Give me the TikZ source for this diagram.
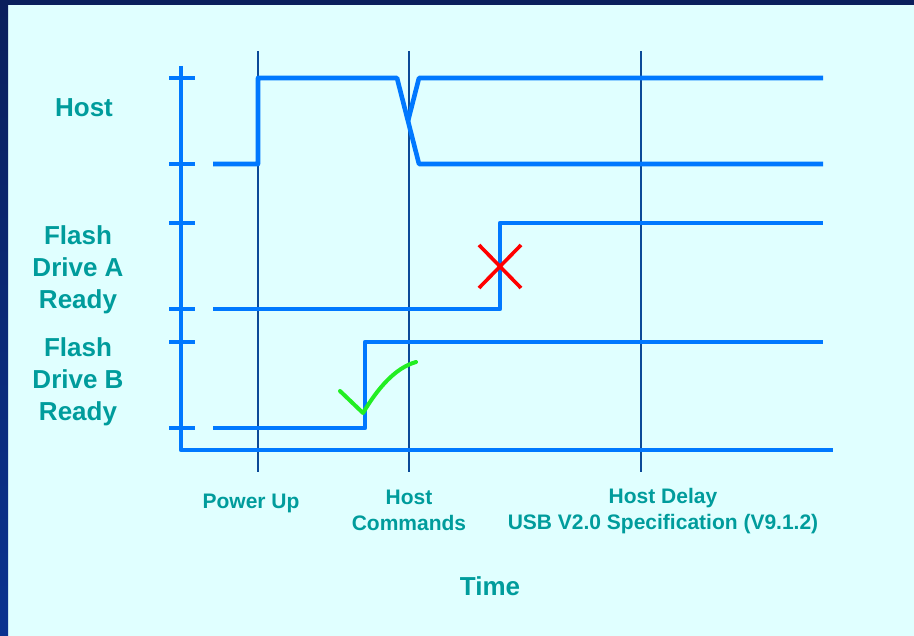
\documentclass[tikz,border=0pt]{standalone}
\usepackage{fontspec}
\setmainfont{Liberation Sans}
\definecolor{bgcyan}{HTML}{E0FFFF}
\definecolor{navyA}{HTML}{0A1F5C}
\definecolor{navyB}{HTML}{0A3290}
\definecolor{sigblue}{HTML}{0078FF}
\definecolor{markblue}{HTML}{0B4A98}
\definecolor{labteal}{HTML}{009C9C}
\definecolor{okgreen}{HTML}{22EE22}
\begin{document}
\begin{tikzpicture}[x=1pt,y=-1pt,
  sig/.style={line width=4.6pt, color=sigblue, line join=round},
  marker/.style={line width=1.8pt, color=markblue},
  lab/.style={text=labteal, font=\bfseries\fontsize{26}{32}\selectfont, align=center, inner sep=0pt},
  tlab/.style={text=labteal, font=\bfseries\fontsize{21}{26}\selectfont, align=center, inner sep=0pt}]
\useasboundingbox (0,0) rectangle (914,636);
\fill[bgcyan] (0,0) rectangle (914,636);
\shade[top color=navyA, bottom color=navyB] (0,0) rectangle (8,636);
\fill[navyA] (0,0) rectangle (914,5);

% time markers
\coordinate (m1t) at (258,51); \coordinate (m1b) at (258,472);
\coordinate (m2t) at (409,51); \coordinate (m2b) at (409,472);
\coordinate (m3t) at (641,51); \coordinate (m3b) at (641,472);
\draw[marker] (m1t) -- (m1b);
\draw[marker] (m2t) -- (m2b);
\draw[marker] (m3t) -- (m3b);

% axes
\coordinate (ax0) at (181,66); \coordinate (ax1) at (181,450); \coordinate (ax2) at (833,450);
\draw[sig] (ax0) -- (ax1) -- (ax2);
\foreach \y in {78,164,223,309,342,428}
  \draw[sig] (169,\y) -- (195,\y);

% Host signal
\draw[sig] (213,164) -- (258,164) -- (258,78) -- (397,78) -- (419,164) -- (823,164);
\draw[sig] (408,121) -- (419,78) -- (823,78);

% Flash Drive A
\draw[sig] (213,309) -- (500,309) -- (500,223) -- (823,223);
% Flash Drive B
\draw[sig] (213,428) -- (365,428) -- (365,342) -- (823,342);

% red cross
\draw[red, line width=3.6pt] (479,245) -- (521,288);
\draw[red, line width=3.6pt] (479,288) -- (521,245);
% green check
\draw[okgreen, line width=4pt, line cap=round, line join=round]
  (340,391) -- (363,413) .. controls (378,388) and (395,368) .. (416,362);

% labels
\node[lab] (host) at (84,108) {Host};
\node[lab] (fa) at (78,270) {Flash\\Drive A\\Ready};
\node[lab] (fb) at (78,382) {Flash\\Drive B\\Ready};
\node[tlab] (pu) at (251,503) {Power Up};
\node[tlab] (hc) at (409,510) {Host\\Commands};
\node[tlab] (hd) at (663,511) {Host Delay\\USB V2.0 Specification (V9.1.2)};
\node[lab] (time) at (490,586) {Time};
\end{tikzpicture}
\end{document}
